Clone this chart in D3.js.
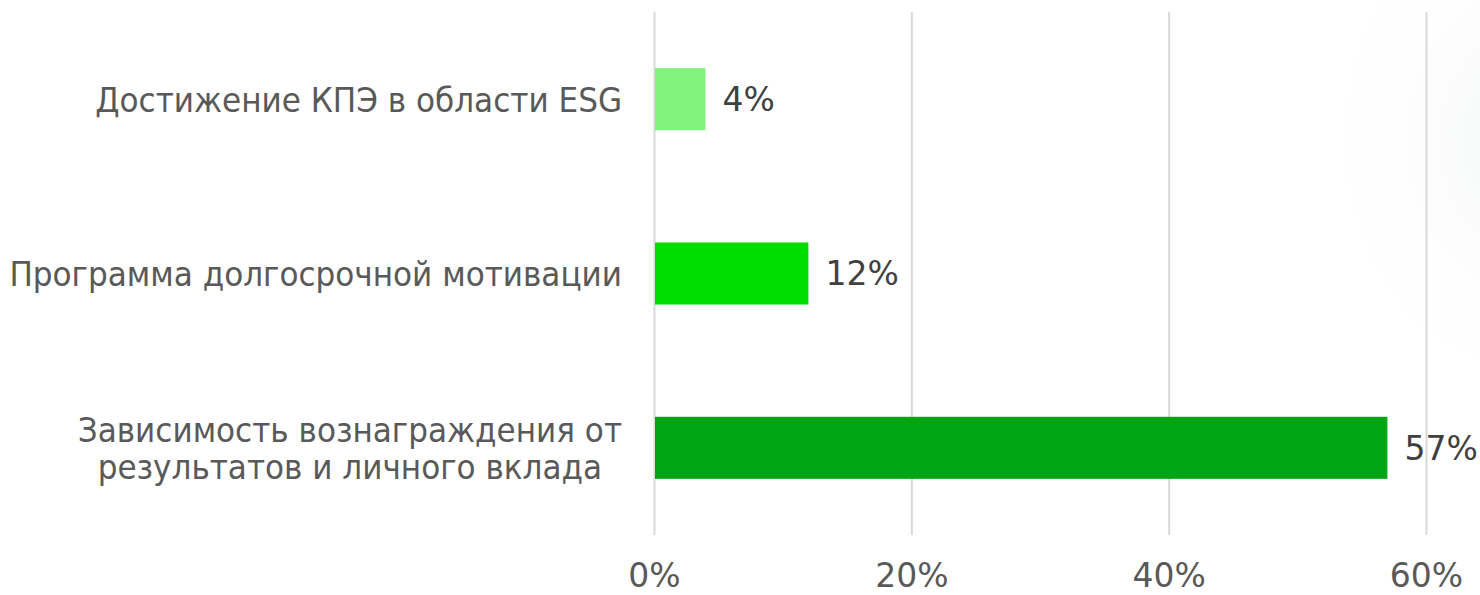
<!DOCTYPE html>
<html><head><meta charset="utf-8">
<script src="https://cdn.jsdelivr.net/npm/d3@7"></script>
<style>html,body{margin:0;padding:0;background:#fff;}svg{display:block;}</style>
</head><body>
<svg id="chart" width="1480" height="595"></svg>
<script>
const categories = [
  ["Достижение КПЭ в области ESG"],
  ["Программа долгосрочной мотивации"],
  ["Зависимость вознаграждения от", "результатов и личного вклада"]
];
const values = [4, 12, 57];
const colors = ["#82F47E", "#00DC00", "#00A512"];
const tickValues = [0, 20, 40, 60];
const tickLabels = ["0%", "20%", "40%", "60%"];

const svg = d3.select("#chart");
const catFont = "'DejaVu Sans Condensed', 'DejaVu Sans', sans-serif";
const numFont = "'DejaVu Sans', sans-serif";

const defs = svg.append("defs");
const rg = defs.append("radialGradient").attr("id","sheen").attr("cx","50%").attr("cy","50%").attr("r","50%");
rg.append("stop").attr("offset","0%").attr("stop-color","#f3f5f5").attr("stop-opacity",0.9);
rg.append("stop").attr("offset","100%").attr("stop-color","#ffffff").attr("stop-opacity",0);
svg.append("ellipse").attr("cx",1520).attr("cy",140).attr("rx",200).attr("ry",260).attr("fill","url(#sheen)");

const x = d3.scaleLinear().domain([0, 60]).range([654, 1426]);
const y = d3.scaleBand().domain(d3.range(categories.length)).range([12, 535]).paddingInner(0.644).paddingOuter(0.322);

svg.append("g").selectAll("line").data(tickValues).join("line")
  .attr("x1", d => x(d) + 0.5).attr("x2", d => x(d) + 0.5)
  .attr("y1", 12).attr("y2", 535)
  .attr("stroke", "#d9d9d9").attr("stroke-width", 2);

const xAxis = d3.axisBottom(x).tickValues(tickValues).tickFormat((d, i) => tickLabels[i]).tickSize(0).tickPadding(0);
const gx = svg.append("g").attr("transform", "translate(0,587)").call(xAxis);
gx.select(".domain").remove();
gx.selectAll("text").attr("font-family", numFont).attr("font-size", 33).attr("fill", "#595959").attr("dy", 0).attr("y", 0);

svg.append("g").selectAll("rect").data(values).join("rect")
  .attr("x", x(0) + 1).attr("y", (d, i) => y(i))
  .attr("width", d => x(d) - x(0) - 1).attr("height", y.bandwidth())
  .attr("fill", (d, i) => colors[i]);

svg.append("g").selectAll("text").data(values).join("text")
  .attr("x", d => x(d) + 17).attr("y", (d, i) => y(i) + y.bandwidth() / 2)
  .attr("dy", "0.36em")
  .attr("font-family", numFont).attr("font-size", 33).attr("fill", "#404040")
  .text(d => d + "%");

const labelRight = 622;
const lineH = 37;
categories.forEach((lines, i) => {
  const g = svg.append("g");
  const cy = y(i) + y.bandwidth() / 2;
  const texts = lines.map((l, j) => g.append("text")
    .attr("font-family", catFont).attr("font-size", 34.6).attr("fill", "#595959")
    .attr("y", cy + (j - (lines.length - 1) / 2) * lineH)
    .attr("dy", "0.36em").text(l));
  const widths = texts.map(t => t.node().getComputedTextLength());
  const maxW = d3.max(widths);
  const center = labelRight - maxW / 2;
  texts.forEach(t => t.attr("x", center).attr("text-anchor", "middle"));
});
</script>
</body></html>
